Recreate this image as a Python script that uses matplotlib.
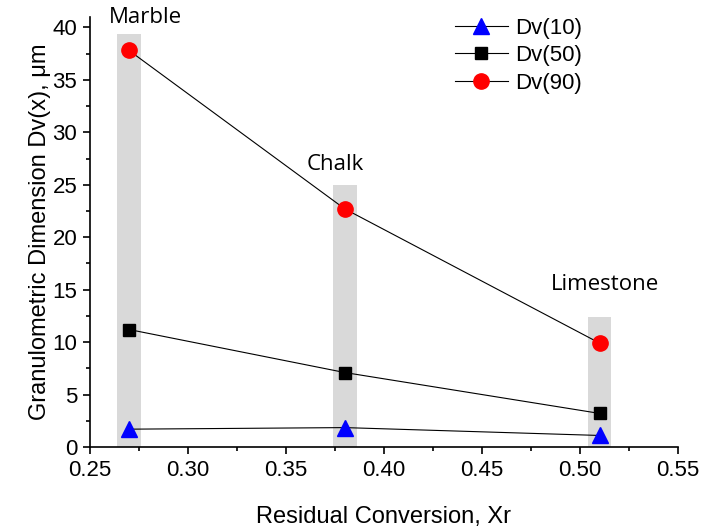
import numpy as np
import matplotlib.pyplot as plt
from matplotlib.ticker import MultipleLocator

# data
xr = [0.27, 0.38, 0.51]
rocks = ['Marble', 'Chalk', 'Limestone']
bar_top = [39.4, 25.0, 12.4]
dv10 = [1.7, 1.85, 1.1]
dv50 = [11.2, 7.1, 3.2]
dv90 = [37.8, 22.7, 9.9]

plt.rcParams['font.family'] = ['Liberation Sans', 'DejaVu Sans']

fig = plt.figure(figsize=(7.02, 5.29), dpi=100)
ax = fig.add_axes([0.128, 0.155, 0.838, 0.813])

ax.bar(xr, bar_top, width=0.012, color='#d9d9d9', zorder=1)

ax.plot(xr, dv10, color='black', lw=0.8, marker='^', ms=11, mfc='blue', mec='blue', label='Dv(10)', zorder=3)
ax.plot(xr, dv50, color='black', lw=0.8, marker='s', ms=9, mfc='black', mec='black', label='Dv(50)', zorder=3)
ax.plot(xr, dv90, color='black', lw=0.8, marker='o', ms=11, mfc='red', mec='red', label='Dv(90)', zorder=3)

# rock labels above the grey bars (offsets in points)
offsets = [(12, 4), (-7, 7), (4, 16)]
for x, top, name, off in zip(xr, bar_top, rocks, offsets):
    ax.annotate(name, (x, top), xytext=off, textcoords='offset points',
                ha='center', va='bottom', fontsize=16, family=['Open Sans', 'DejaVu Sans'])

ax.set_xlim(0.25, 0.55)
ax.set_ylim(0, 41)
ax.xaxis.set_major_locator(MultipleLocator(0.05))
ax.xaxis.set_minor_locator(MultipleLocator(0.025))
ax.yaxis.set_major_locator(MultipleLocator(5))
ax.yaxis.set_minor_locator(MultipleLocator(2.5))
ax.xaxis.set_major_formatter(plt.FormatStrFormatter('%.2f'))
ax.tick_params(which='major', direction='out', length=5, width=1.2, labelsize=16, pad=4)
ax.tick_params(which='minor', direction='out', length=3, width=1.2)
ax.spines['top'].set_visible(False)
ax.spines['right'].set_visible(False)
ax.spines['left'].set_linewidth(1.2)
ax.spines['bottom'].set_linewidth(1.2)

ax.set_xlabel('Residual Conversion, Xr', fontsize=17, labelpad=18)
ax.set_ylabel('Granulometric Dimension Dv(x), \u03bcm', fontsize=17, labelpad=1)

ax.legend(loc='upper right', bbox_to_anchor=(0.87, 1.045), frameon=False, fontsize=16,
          handlelength=2.4, handletextpad=0.3, labelspacing=0.3)

fig.savefig('out.png', dpi=100)
